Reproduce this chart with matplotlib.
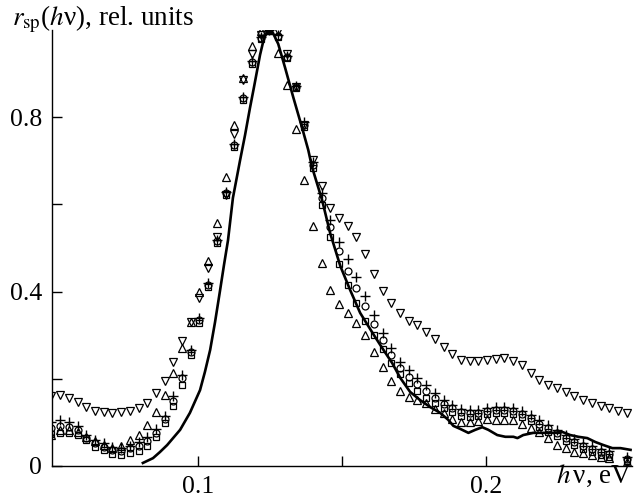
import numpy as np
import matplotlib
matplotlib.use("Agg")
import matplotlib.pyplot as plt

plt.rcParams['font.family'] = ['Liberation Serif', 'DejaVu Serif']
plt.rcParams['mathtext.fontset'] = 'stix'

# photon energy grid of the measured points, eV
hv = [0.0493, 0.0523, 0.0553, 0.0584, 0.0614, 0.0644, 0.0674, 0.0704, 0.0735, 0.0765,
      0.0795, 0.0825, 0.0855, 0.0886, 0.0916, 0.0946, 0.0976, 0.1006, 0.1037, 0.1067,
      0.1097, 0.1127, 0.1157, 0.1188, 0.1218, 0.1248, 0.1278, 0.1308, 0.1339, 0.1369,
      0.1399, 0.1429, 0.1459, 0.1490, 0.1520, 0.1550, 0.1580, 0.1610, 0.1641, 0.1671,
      0.1701, 0.1731, 0.1761, 0.1792, 0.1822, 0.1852, 0.1882, 0.1912, 0.1943, 0.1973,
      0.2003, 0.2033, 0.2063, 0.2094, 0.2124, 0.2154, 0.2184, 0.2214, 0.2245, 0.2275,
      0.2305, 0.2335, 0.2365, 0.2396, 0.2426, 0.2456, 0.2486]

nan = np.nan

r_dn = [0.161, 0.163, 0.156, 0.147, 0.135, 0.126, 0.124, 0.122, 0.124, 0.126,
        0.133, 0.144, 0.167, 0.195, 0.239, 0.287, 0.330, 0.385, 0.454, 0.525,
        0.622, 0.761, 0.885, 0.945, 0.989, 1.000, 0.998, 0.945, 0.869, 0.782,
        0.702, 0.642, 0.592, 0.569, 0.550, 0.525, 0.486, 0.440, 0.401, 0.374,
        0.351, 0.333, 0.323, 0.307, 0.291, 0.273, 0.257, 0.243, 0.241, 0.241,
        0.243, 0.245, 0.248, 0.241, 0.232, 0.213, 0.197, 0.186, 0.179, 0.170,
        0.161, 0.151, 0.144, 0.138, 0.133, 0.126, 0.122]

r_up = [0.070, 0.083, 0.083, 0.078, 0.067, 0.057, 0.048, 0.041, 0.046, 0.060,
        0.071, 0.094, 0.124, 0.163, 0.213, 0.271, 0.330, 0.399, 0.470, 0.557,
        0.663, 0.782, 0.890, 0.963, 0.998, 1.000, 0.947, 0.874, 0.773, 0.656,
        0.550, 0.466, 0.404, 0.372, 0.351, 0.328, 0.300, 0.261, 0.227, 0.195,
        0.172, 0.158, 0.151, 0.144, 0.131, 0.122, 0.108, 0.101, 0.101, 0.103,
        0.108, 0.106, 0.106, 0.106, 0.096, 0.087, 0.078, 0.064, 0.048, 0.041,
        0.032, 0.030, 0.025, 0.021, 0.018, nan, 0.009]

r_sq = [0.073, 0.076, 0.076, 0.071, 0.060, 0.044, 0.037, 0.028, 0.025, 0.030,
        0.034, 0.046, 0.067, 0.099, 0.138, 0.186, 0.255, 0.328, 0.411, 0.511,
        0.622, 0.732, 0.839, 0.922, 0.979, 0.998, 0.984, 0.936, 0.867, 0.778,
        0.683, 0.599, 0.525, 0.463, 0.415, 0.374, 0.333, 0.300, 0.268, 0.236,
        0.211, 0.190, 0.172, 0.156, 0.144, 0.133, 0.124, 0.115, 0.112, 0.115,
        0.119, 0.122, 0.122, 0.119, 0.112, 0.103, 0.089, 0.078, 0.069, 0.057,
        0.048, 0.039, 0.032, 0.025, 0.021, nan, 0.011]

r_ci = [0.087, 0.092, 0.089, 0.083, 0.064, 0.053, 0.044, 0.037, 0.034, 0.041,
        0.046, 0.057, 0.076, 0.108, 0.149, 0.202, 0.261, 0.335, 0.415, 0.516,
        0.626, 0.736, 0.844, 0.927, 0.982, 1.000, 0.986, 0.938, 0.869, 0.782,
        0.690, 0.615, 0.548, 0.493, 0.447, 0.408, 0.367, 0.326, 0.289, 0.255,
        0.225, 0.204, 0.188, 0.172, 0.156, 0.142, 0.133, 0.124, 0.122, 0.122,
        0.126, 0.128, 0.128, 0.126, 0.119, 0.110, 0.096, 0.087, 0.076, 0.064,
        0.055, 0.046, 0.039, 0.032, 0.028, nan, 0.016]

r_pl = [0.101, 0.106, 0.101, 0.092, 0.071, 0.060, 0.053, 0.044, 0.041, 0.046,
        0.055, 0.067, 0.085, 0.115, 0.161, 0.209, 0.266, 0.339, 0.420, 0.518,
        0.628, 0.739, 0.846, 0.929, 0.984, 1.000, 0.989, 0.940, 0.872, 0.789,
        0.697, 0.626, 0.564, 0.514, 0.475, 0.433, 0.390, 0.346, 0.305, 0.271,
        0.239, 0.220, 0.202, 0.186, 0.167, 0.151, 0.140, 0.131, 0.128, 0.128,
        0.133, 0.135, 0.135, 0.133, 0.126, 0.117, 0.106, 0.094, 0.083, 0.071,
        0.062, 0.053, 0.046, 0.039, 0.034, nan, 0.021]

# calculated spectrum (solid curve)
calc_hv = [0.0810, 0.0845, 0.0869, 0.0894, 0.0921, 0.0939, 0.0973, 0.1008, 0.1025, 0.1043,
           0.1060, 0.1077, 0.1091, 0.1105, 0.1122, 0.1147, 0.1164, 0.1181, 0.1195, 0.1216,
           0.1230, 0.1244, 0.1261, 0.1279, 0.1303, 0.1331, 0.1362, 0.1383, 0.1396, 0.1431,
           0.1459, 0.1494, 0.1528, 0.1563, 0.1608, 0.1639, 0.1674, 0.1702, 0.1736, 0.1771,
           0.1806, 0.1840, 0.1868, 0.1886, 0.1910, 0.1938, 0.1962, 0.1986, 0.2007, 0.2038,
           0.2066, 0.2094, 0.2108, 0.2128, 0.2163, 0.2194, 0.2229, 0.2264, 0.2291, 0.2319,
           0.2350, 0.2378, 0.2406, 0.2437, 0.2465, 0.2500]
calc_r = [0.007, 0.018, 0.032, 0.048, 0.069, 0.083, 0.122, 0.174, 0.216, 0.266,
          0.330, 0.401, 0.461, 0.518, 0.615, 0.702, 0.759, 0.821, 0.869, 0.943,
          0.982, 0.998, 0.993, 0.968, 0.913, 0.846, 0.775, 0.725, 0.686, 0.610,
          0.534, 0.459, 0.404, 0.351, 0.303, 0.271, 0.236, 0.202, 0.170, 0.151,
          0.135, 0.122, 0.106, 0.092, 0.085, 0.076, 0.083, 0.089, 0.083, 0.071,
          0.067, 0.067, 0.064, 0.071, 0.076, 0.076, 0.076, 0.078, 0.071, 0.067,
          0.064, 0.055, 0.048, 0.041, 0.041, 0.037]

fig = plt.figure(figsize=(6.4, 4.97), dpi=100)
ax = fig.add_axes([52/640, 31/497, 580/640, 436/497])

mk = dict(linestyle='none', color='black', fillstyle='none', markersize=5.5, markeredgewidth=0.9)
ax.plot(hv, r_up, marker='^', **mk)
ax.plot(hv, r_dn, marker='v', **mk)
ax.plot(hv, r_sq, marker='s', markersize=5, markeredgewidth=0.9, linestyle='none',
        color='black', fillstyle='none')
ax.plot(hv, r_ci, marker='o', markersize=5, markeredgewidth=0.9, linestyle='none',
        color='black', fillstyle='none')
ax.plot(hv, r_pl, marker='+', markersize=7, markeredgewidth=1.0, linestyle='none', color='black')
ax.plot(calc_hv, calc_r, color='black', linewidth=1.9)

ax.set_xlim(0.0495, 0.2505)
ax.set_ylim(0, 1.0)
ax.spines['top'].set_visible(False)
ax.spines['right'].set_visible(False)
for s in ('left', 'bottom'):
    ax.spines[s].set_linewidth(1.0)

ax.set_xticks([0.1, 0.15, 0.2])
ax.set_xticklabels(['0.1', '', '0.2'])
ax.set_yticks([0, 0.2, 0.4, 0.6, 0.8])
ax.set_yticklabels(['0', '', '0.4', '', '0.8'])
ax.tick_params(direction='in', length=7, width=1.0, labelsize=18.5)
ax.tick_params(axis='y', pad=7)
ax.tick_params(axis='x', pad=7)

fig.text(12/640, 1 - 25/497, r'$r_{\rm sp}$($h$ν), rel. units', fontsize=19.5,
         ha='left', va='baseline')
fig.text(632/640, 1 - 483/497, r'$h\,$ν, eV', fontsize=19.5, ha='right', va='baseline')

fig.savefig('out.png', dpi=100)
